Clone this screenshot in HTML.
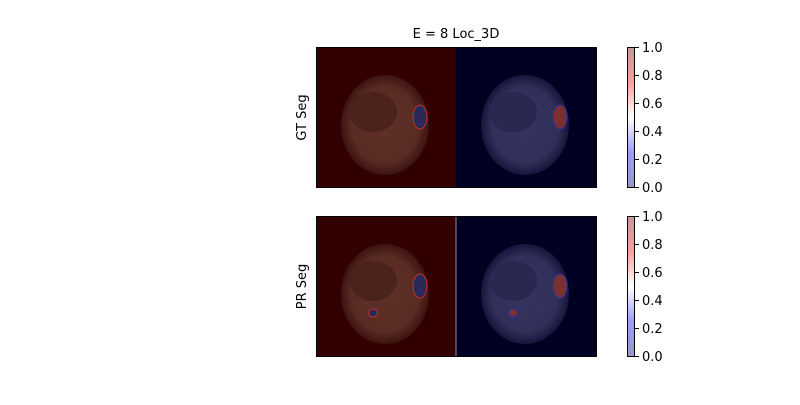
<!DOCTYPE html>
<html><head><meta charset="utf-8"><style>
body{margin:0;background:#fff;font-family:"Liberation Sans","DejaVu Sans",sans-serif}
svg text{font-family:"DejaVu Sans","Liberation Sans",sans-serif;font-size:13px;fill:#000}
</style></head><body>
<svg width="800" height="400" viewBox="0 0 800 400">
<defs>
<linearGradient id="cb" x1="0" y1="1" x2="0" y2="0">
<stop offset="0" stop-color="#9898c4"/><stop offset="0.25" stop-color="#9c9cff"/>
<stop offset="0.5" stop-color="#ffffff"/><stop offset="0.75" stop-color="#ff9c9c"/>
<stop offset="1" stop-color="#c49898"/></linearGradient>
<radialGradient id="bodyR"><stop offset="0" stop-color="#5e3028"/><stop offset="0.75" stop-color="#5a2c24"/><stop offset="1" stop-color="#3e1410"/></radialGradient>
<radialGradient id="bodyB"><stop offset="0" stop-color="#34345e"/><stop offset="0.75" stop-color="#30305a"/><stop offset="1" stop-color="#16163c"/></radialGradient>
</defs>
<text x="456" y="38" text-anchor="middle" font-size="14">E = 8 Loc_3D</text>
<g id="rows"></g>
</svg>
<script>
const rowNames=["GT Seg","PR Seg"];
const rowTops=[47,216];
const ticks=["0.0","0.2","0.4","0.6","0.8","1.0"];
const ns="http://www.w3.org/2000/svg";
const g=document.getElementById('rows');
function mk(t,a,p){const e=document.createElementNS(ns,t);for(const k in a)e.setAttribute(k,a[k]);(p||g).appendChild(e);return e;}
rowNames.forEach((name,i)=>{
 const y0=rowTops[i],h=141;
 const grp=mk('g',{});
 
 
 mk('rect',{x:316,y:y0,width:140,height:h,fill:'#330000'},grp);
 mk('rect',{x:456,y:y0,width:141,height:h,fill:'#000022'},grp);
 [[385,'url(#bodyR)','#2a2a58','#c03030'],[525,'url(#bodyB)','#7a3030','#3030a0']].forEach(([cx,f,kf,ks],j)=>{
  mk('ellipse',{cx:cx,cy:y0+78,rx:44,ry:50,fill:f},grp);
  mk('ellipse',{cx:cx-12,cy:y0+65,rx:24,ry:20,fill:j?'#282850':'#4c221c'},grp);
  mk('ellipse',{cx:cx+35,cy:y0+70,rx:7,ry:12,fill:kf,stroke:ks,'stroke-width':1},grp);
  if(i===1) mk('ellipse',{cx:cx-12,cy:y0+97,rx:4.5,ry:4,fill:kf,stroke:ks,'stroke-width':1},grp);
 });
 if(i===1) mk('line',{x1:456,y1:y0,x2:456,y2:y0+h,stroke:'#9a8a8a','stroke-width':1},grp);
 mk('rect',{x:316.5,y:y0+0.5,width:280,height:h-1,fill:'none',stroke:'#000','stroke-width':1},grp);
 const lab=mk('text',{x:306,y:y0+h/2,'text-anchor':'middle',transform:`rotate(-90 306 ${y0+h/2})`});
 lab.textContent=name;
 
 
 const cb=mk('rect',{x:627.5,y:y0+0.5,width:7,height:h-1,fill:'url(#cb)',stroke:'#000','stroke-width':1});
 
 
 ticks.forEach((t,k)=>{
  const ty=y0+h-0.5-k*(h-1)/(ticks.length-1);
  mk('line',{x1:635,y1:ty,x2:639,y2:ty,stroke:'#000','stroke-width':1});
  const tx=mk('text',{x:642,y:ty+4.5,'font-size':12.5});
  tx.textContent=t;
  
  
 });
});
</script>
</body></html>
